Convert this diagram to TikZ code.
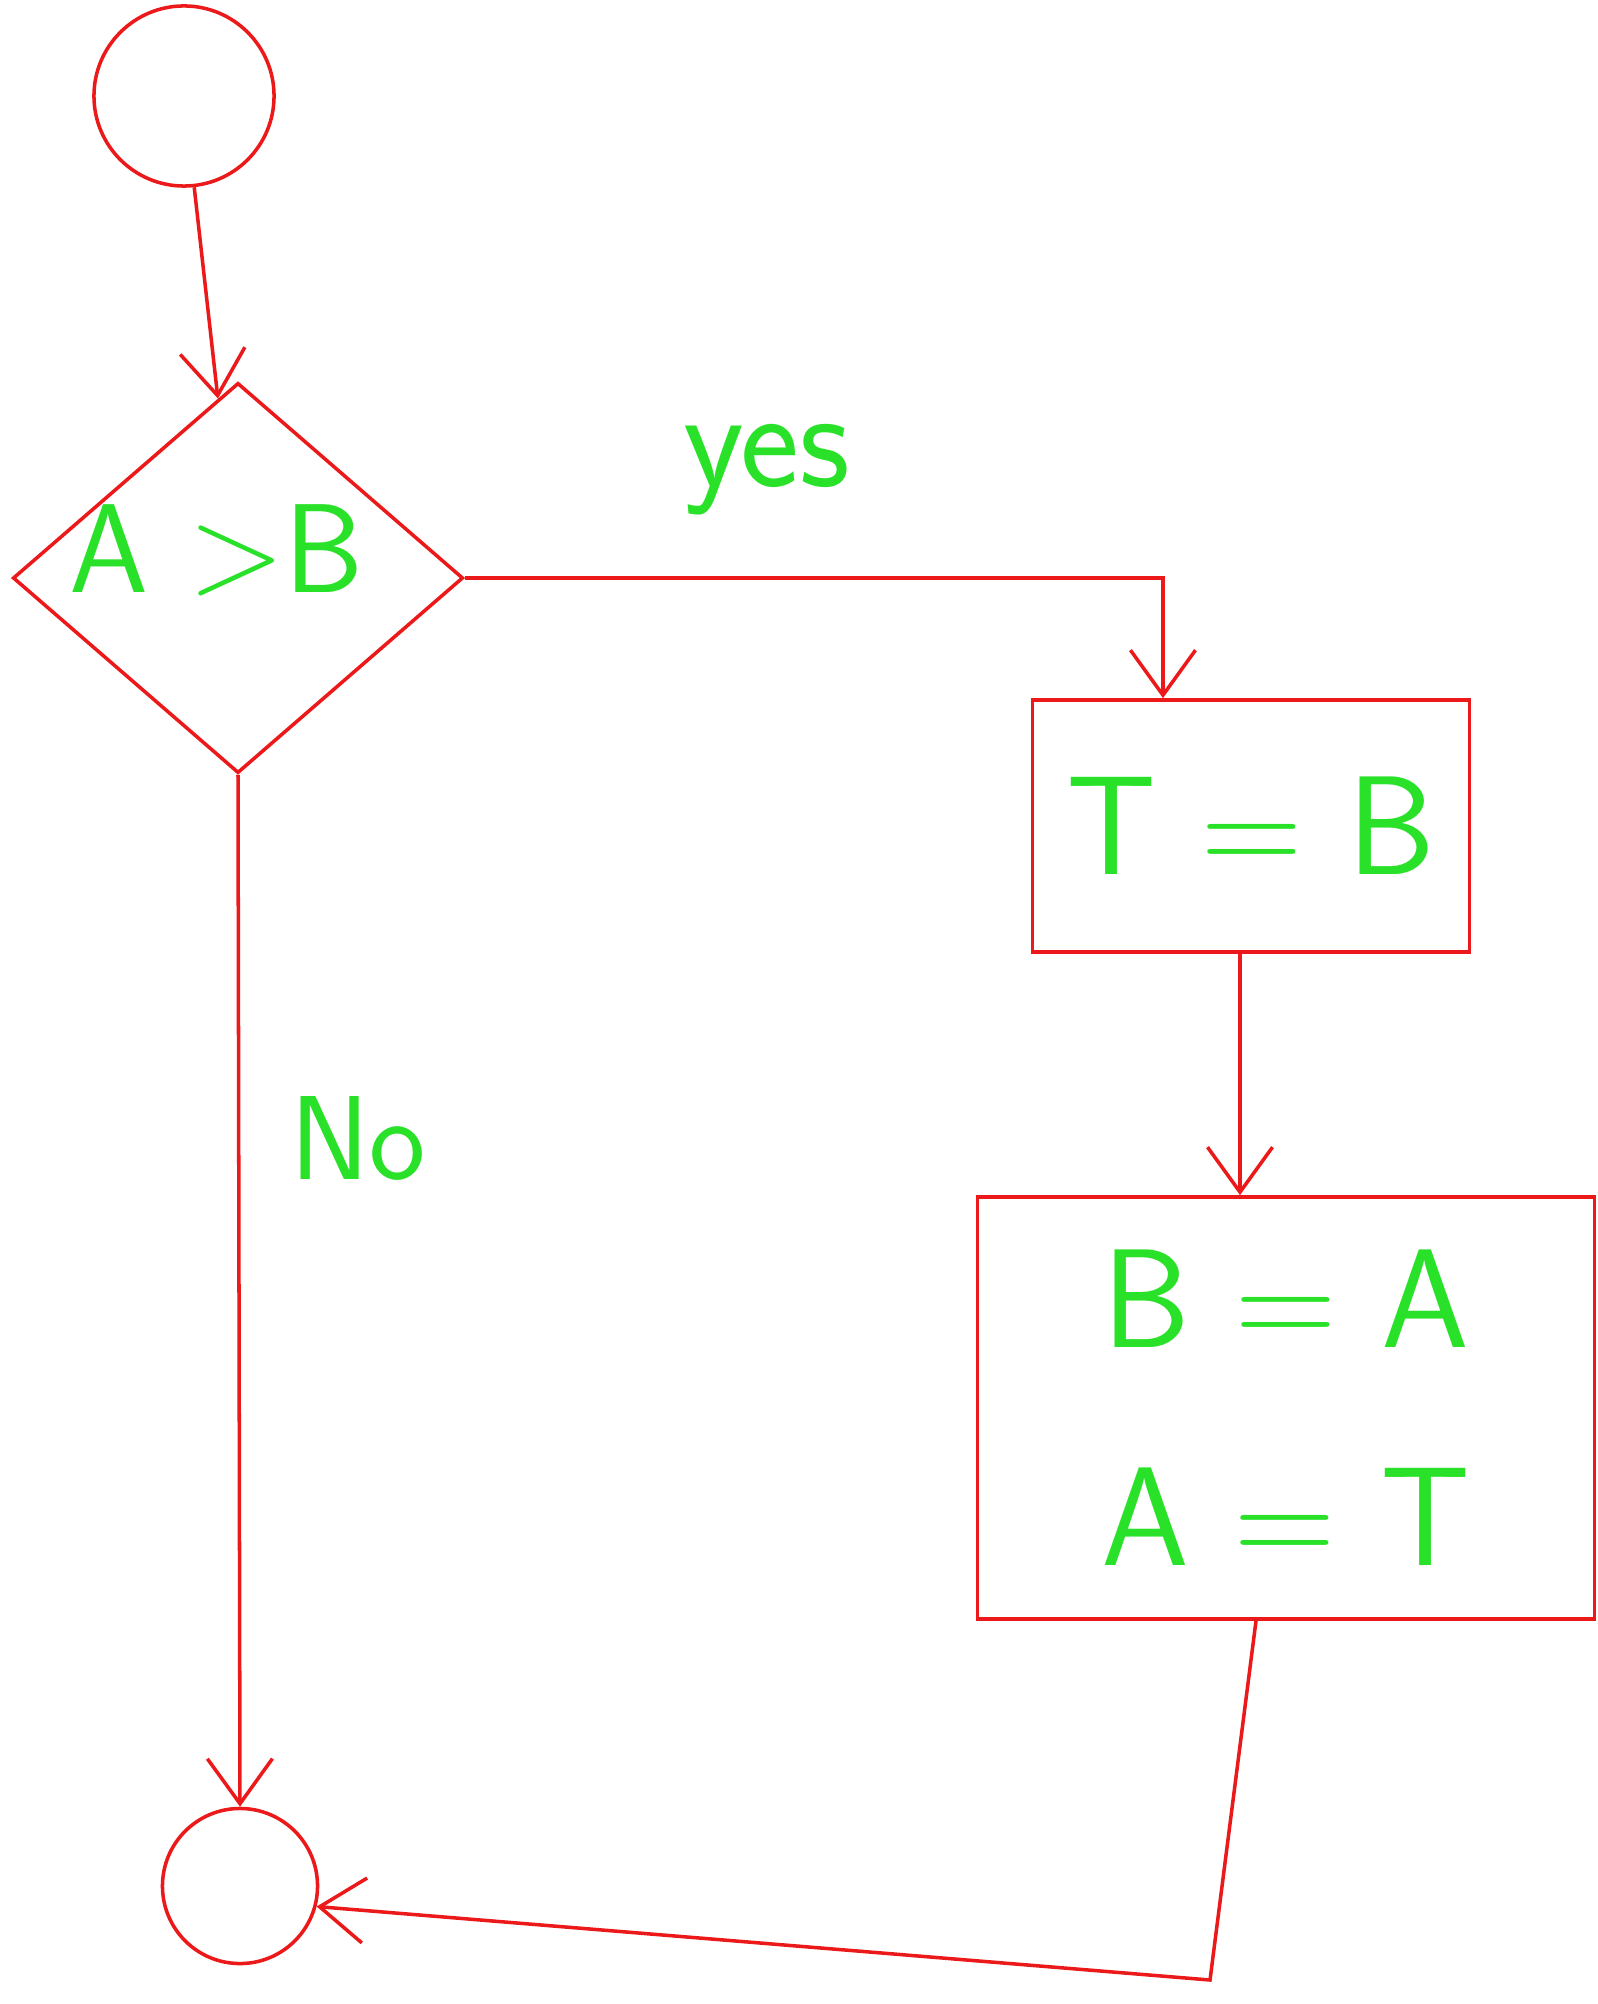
\documentclass[tikz,border=0pt]{standalone}
\usetikzlibrary{shapes.geometric,arrows.meta}
\definecolor{penred}{RGB}{235,25,25}
\definecolor{pengreen}{RGB}{40,225,40}
\begin{document}
\begin{tikzpicture}[x=0.01cm,y=-0.01cm,line width=1pt,
  >={Straight Barb[length=4.5mm,width=6.5mm]},
  term/.style={draw=penred,circle,inner sep=0pt},
  test/.style={draw=penred,diamond,minimum width=4.5cm,minimum height=3.9cm,inner sep=0pt},
  block/.style={draw=penred,rectangle,inner sep=0pt,align=center},
  txt/.style={text=pengreen,font=\sffamily\fontsize{40}{62}\selectfont},
  flow/.style={draw=penred,->}]
\useasboundingbox (0,0) rectangle (1598,2004);
% shapes
\node[term,minimum size=1.8cm] (start) at (184,96) {};
\node[test] (dec) at (238,578) {};
\node[txt,font=\sffamily\fontsize{36}{40}\selectfont] (cond) at (217,550) {A >B};
\node[block,txt,minimum width=4.37cm,minimum height=2.52cm] (box1) at (1251,826) {T = B};
\node[block,txt,minimum width=6.17cm,minimum height=4.22cm] (box2) at (1286,1408) {B = A\\A = T};
\node[term,minimum size=1.55cm] (end) at (240,1886) {};
\coordinate (corner) at (1210,1980);
% labels
\node[txt] (yeslbl) at (767,470) {yes};
\node[txt,font=\sffamily\fontsize{34}{40}\selectfont] (nolbl) at (358,1138) {No};
% connectors
\draw[flow] (start) -- (dec);
\draw[flow] (dec.east) -| ([xshift=-0.88cm]box1.north);
\draw[flow] ([xshift=-0.11cm]box1.south) -- ([xshift=-0.11cm]box1.south |- box2.north);
\draw[flow] (dec.south) -- (end.north);
\draw[flow] ([xshift=-0.3cm]box2.south) -- (corner) -- (end.-15);
\end{tikzpicture}
\end{document}
